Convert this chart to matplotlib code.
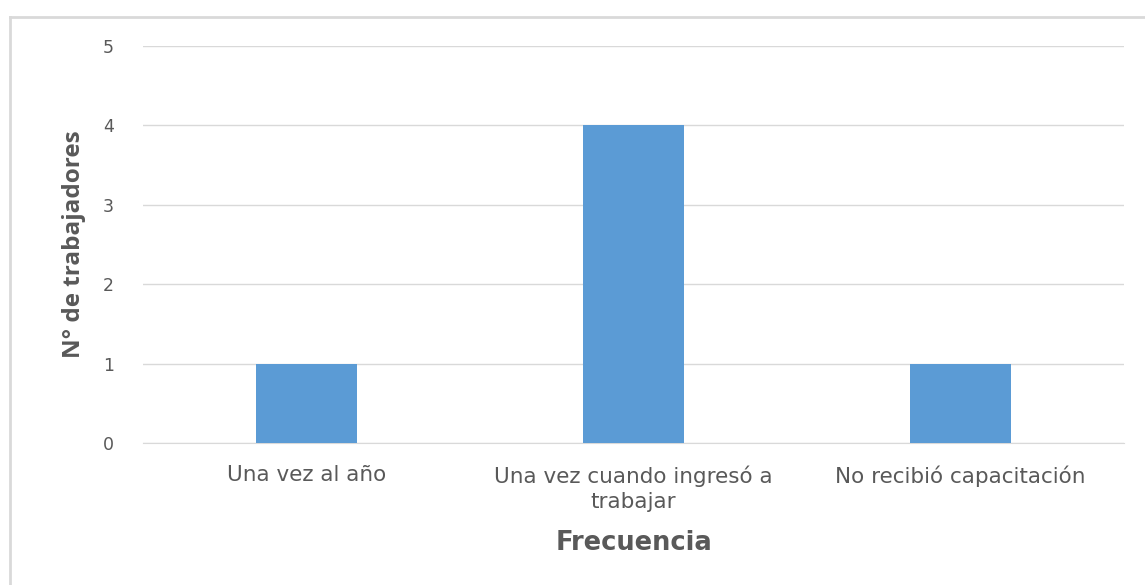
import numpy as np
import matplotlib.pyplot as plt
from matplotlib.lines import Line2D

categorias = ["Una vez al año", "Una vez cuando ingresó a\ntrabajar", "No recibió capacitación"]
trabajadores = [1, 4, 1]
yticks = [0, 1, 2, 3, 4, 5]

gris = "#595959"
fig = plt.figure(figsize=(11.45, 5.85), dpi=100)
ax = fig.add_axes([143/1145, 1-443/585, (1124-143)/1145, (443-46)/585])

x = np.arange(len(categorias))
ax.bar(x, trabajadores, width=0.31, color="#5b9bd5", zorder=3)
ax.set_xlim(-0.5, 2.5)
ax.set_ylim(0, 5)
ax.set_yticks(yticks)
ax.set_xticks(x)
ax.set_xticklabels(categorias, fontsize=15.5, color=gris, family="DejaVu Sans",
                   linespacing=1.35)
ax.tick_params(axis="y", labelsize=12.5, labelcolor=gris, length=0, pad=21)
ax.tick_params(axis="x", length=0, pad=16)
ax.grid(axis="y", color="#d9d9d9", linewidth=1, zorder=0)
for s in ["top", "right", "left"]:
    ax.spines[s].set_visible(False)
ax.spines["bottom"].set_color("#d9d9d9")

ax.set_ylabel("N° de trabajadores", fontsize=17.5, fontweight="bold", color=gris,
              family="Open Sans", labelpad=12)
ax.set_xlabel("Frecuencia", fontsize=18.5, fontweight="bold", color=gris,
              family="DejaVu Sans", labelpad=13)

# marco exterior (sólo visible arriba e izquierda)
fig.add_artist(Line2D([10.5/1145, 10.5/1145], [0, 1-17/585], color="#d9d9d9", lw=2))
fig.add_artist(Line2D([10.5/1145, 1], [1-17/585, 1-17/585], color="#d9d9d9", lw=2))

fig.savefig("out.png", dpi=100)
